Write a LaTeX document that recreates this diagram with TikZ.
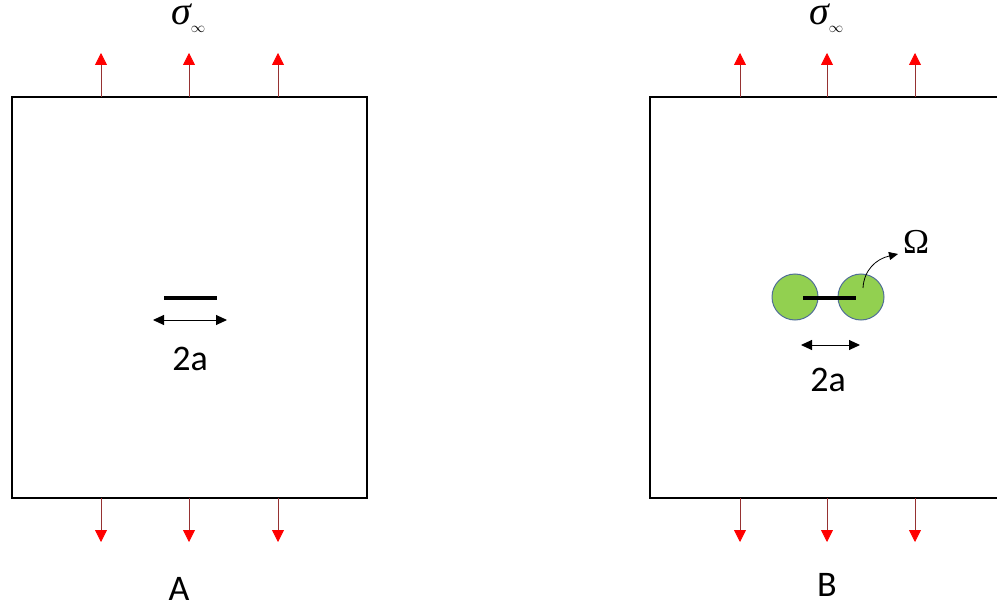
\documentclass[tikz,border=0pt]{standalone}
\usepackage{fontspec}
\setmainfont{Carlito}
\newfontfamily\serifgr{Liberation Serif}
\usetikzlibrary{arrows.meta}
\definecolor{loadline}{RGB}{150,50,50}
\definecolor{zonefill}{RGB}{146,208,80}
\definecolor{zoneedge}{RGB}{80,110,150}
\tikzset{
  load/.style={draw=loadline, line width=0.8pt, -{Triangle[width=12pt,length=12pt,fill=red,color=red]}},
  plate/.style={draw=black, line width=1.6pt},
  crackline/.style={draw=black, line width=4pt},
  dimarrow/.style={draw=black, line width=1pt, {Triangle[width=10pt,length=11pt]}-{Triangle[width=10pt,length=11pt]}},
  lbl/.style={font=\fontsize{36}{40}\selectfont, inner sep=0pt},
  siglbl/.style={inner sep=0pt, anchor=base west, text height=16pt, text depth=8pt},
  zone/.style={circle, minimum size=46pt, inner sep=0pt, fill=zonefill, draw=zoneedge, line width=1pt},
}
\newcommand{\sigmainf}{{\serifgr\fontsize{40}{44}\selectfont\itshape σ}\raisebox{-8pt}{\fontsize{15}{15}\selectfont$\infty$}}
\begin{document}
\begin{tikzpicture}[x=1pt,y=-1pt]
\useasboundingbox (0,0) rectangle (997,607);
% ---------- Panel A ----------
\draw[plate] (12,97) rectangle (367,498);
\foreach \i/\x in {1/101,2/189,3/278}{
  \coordinate (at\i) at (\x,97);
  \coordinate (atp\i) at (\x,53);
  \coordinate (ab\i) at (\x,498);
  \coordinate (abp\i) at (\x,542);
  \draw[load] (at\i) -- (atp\i);
  \draw[load] (ab\i) -- (abp\i);
}
\node[siglbl] (sigA) at (171,25) {\sigmainf};
\coordinate (cA1) at (164,298); \coordinate (cA2) at (217,298);
\draw[crackline] (cA1) -- (cA2);
\coordinate (dA1) at (153,320); \coordinate (dA2) at (227,320);
\draw[dimarrow] (dA1) -- (dA2);
\node[lbl] (twoaA) at (190,359) {2a};
\node[lbl, text height=23pt, text depth=0pt, anchor=base] (labA) at (179,600) {A};
% ---------- Panel B ----------
\draw[plate] (650,97) rectangle (1010,498);
\foreach \i/\x in {1/740,2/827,3/915}{
  \coordinate (bt\i) at (\x,97);
  \coordinate (btp\i) at (\x,53);
  \coordinate (bb\i) at (\x,498);
  \coordinate (bbp\i) at (\x,542);
  \draw[load] (bt\i) -- (btp\i);
  \draw[load] (bb\i) -- (bbp\i);
}
\node[siglbl] (sigB) at (809,25) {\sigmainf};
\node[zone] (zl) at (795,297) {};
\node[zone] (zr) at (861,297) {};
\coordinate (cB1) at (803,298); \coordinate (cB2) at (856,298);
\draw[crackline] (cB1) -- (cB2);
\coordinate (dB1) at (801,345); \coordinate (dB2) at (860,345);
\draw[dimarrow] (dB1) -- (dB2);
\node[lbl] (twoaB) at (828,380) {2a};
\node[lbl] (labB) at (827,585) {B};
\node[inner sep=0pt, font=\serifgr\fontsize{35}{38}\selectfont] (omega) at (916,242) {Ω};
\coordinate (om0) at (863,288);
\coordinate (om1) at (898,254);
\draw[black, line width=0.8pt, -{Triangle[width=8pt,length=9pt]}] (om0) .. controls (864,270) and (876,259) .. (om1);
\end{tikzpicture}
\end{document}
